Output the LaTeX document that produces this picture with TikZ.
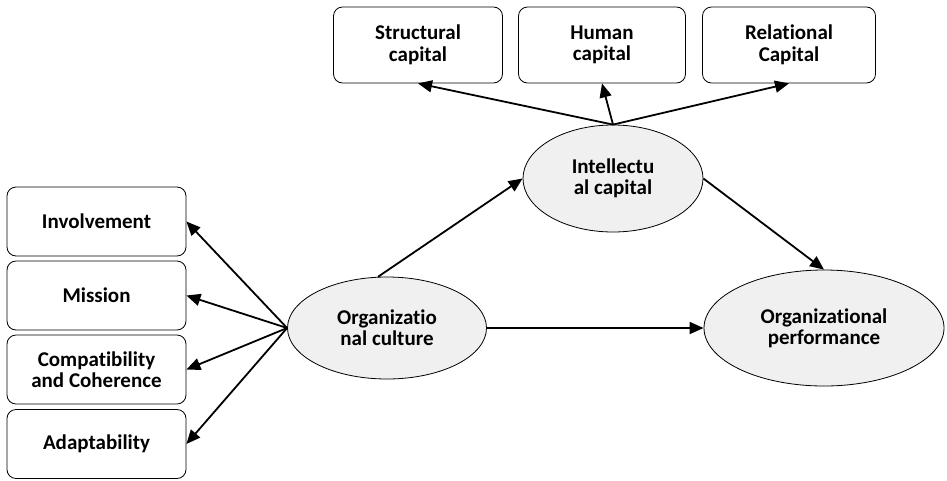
\documentclass[tikz,border=0pt]{standalone}
\usepackage{fontspec}
\setmainfont{Carlito}[Ligatures=NoCommon]
\usetikzlibrary{arrows.meta,shapes.geometric}
\tikzset{
  box/.style={draw, rounded corners=9pt, line width=0.8pt, align=center, font=\bfseries\fontsize{21}{21.5}\selectfont, inner sep=0pt},
  latent/.style={draw, ellipse, fill=black!6, line width=0.8pt, align=center, font=\bfseries\fontsize{21}{21}\selectfont, inner sep=0pt},
  arr/.style={line width=1.8pt, -{Triangle[length=14pt,width=12pt]}}
}
\begin{document}
\begin{tikzpicture}[x=1pt,y=-1pt]
\useasboundingbox (0,0) rectangle (947,480);
% top boxes
\node[box, minimum width=169pt, minimum height=76pt] (S) at (418,45) {Structural\\capital};
\node[box, minimum width=167pt, minimum height=76pt] (H) at (602,45) {Human\\capital};
\node[box, minimum width=173pt, minimum height=76pt] (R) at (789,45) {Relational\\Capital};
% left boxes
\node[box, minimum width=179pt, minimum height=69pt] (Inv) at (96.5,221.5) {Involvement};
\node[box, minimum width=179pt, minimum height=69pt] (Mis) at (96.5,295.5) {Mission};
\node[box, minimum width=179pt, minimum height=69pt] (Com) at (96.5,369.5) {Compatibility\\and Coherence};
\node[box, minimum width=179pt, minimum height=69pt] (Ada) at (96.5,444) {Adaptability};
% ellipses
\node[latent, minimum width=180pt, minimum height=107pt] (I) at (613,178.5) {Intellectu\\al capital};
\node[latent, minimum width=199pt, minimum height=102pt] (C) at (387,328) {Organizatio\\nal culture};
\node[latent, minimum width=240pt, minimum height=116pt] (P) at (824,328) {Organizational\\performance};
% arrows
\draw[arr] (I.north) -- (S.south);
\draw[arr] (I.north) -- (H.south);
\draw[arr] (I.north) -- (R.south);
\draw[arr] (C.100) -- (I.west);
\draw[arr] (I.east) -- (P.north);
\draw[arr] (C.east) -- (P.west);
\draw[arr] (C.west) -- (Inv.east);
\draw[arr] (C.west) -- (Mis.east);
\draw[arr] (C.west) -- (Com.east);
\draw[arr] (C.west) -- (Ada.east);
\end{tikzpicture}
\end{document}
